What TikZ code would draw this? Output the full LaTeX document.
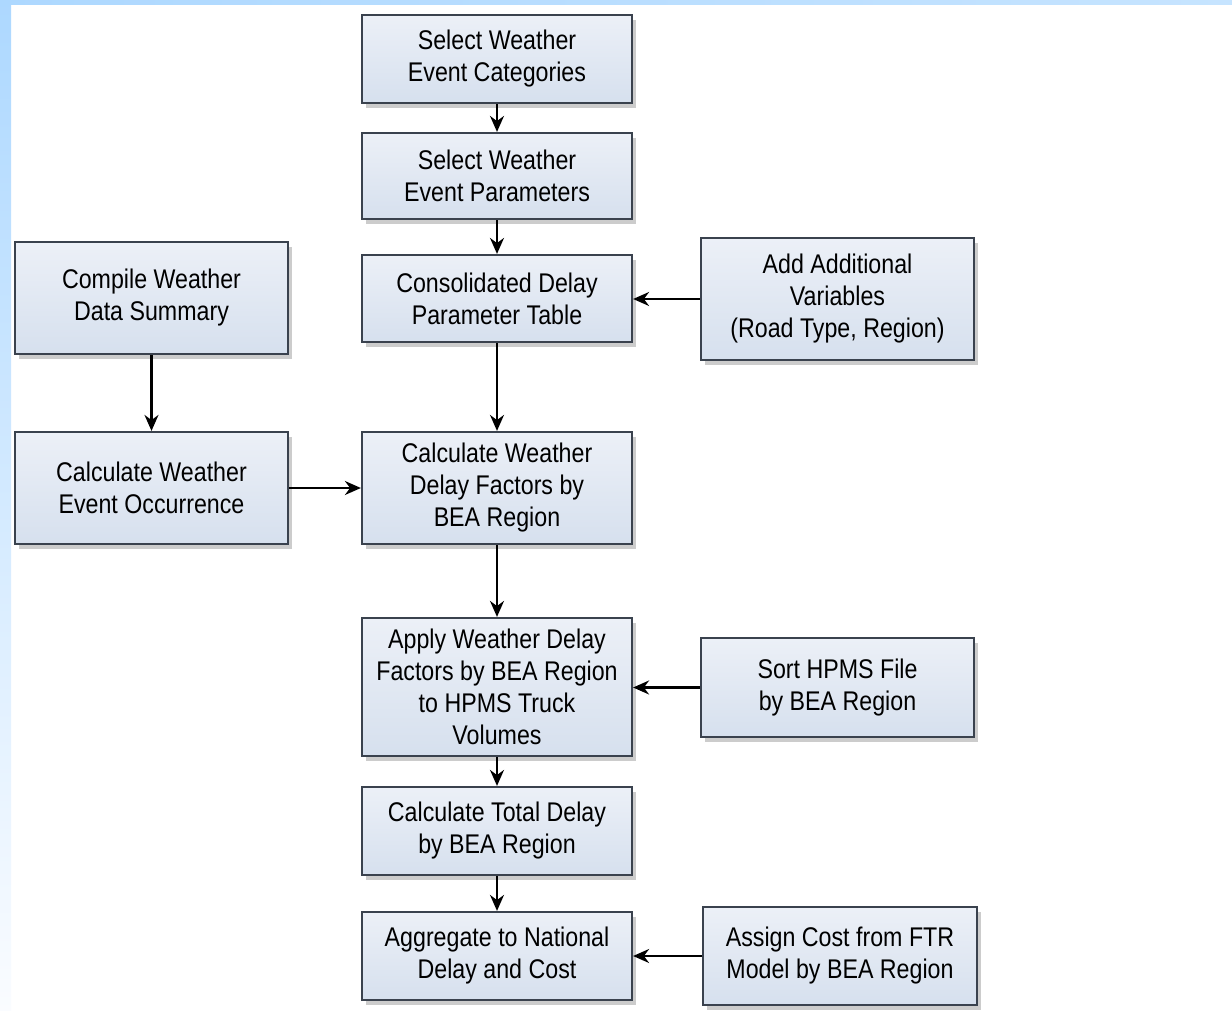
\documentclass[tikz,border=0pt]{standalone}
\usepackage{fontspec}
\setmainfont{Liberation Sans}[FakeStretch=0.86]
\usetikzlibrary{arrows.meta,shadows}
\definecolor{boxtop}{RGB}{236,240,247}
\definecolor{boxbot}{RGB}{214,224,238}
\definecolor{boxline}{RGB}{58,66,78}
\definecolor{barblue}{RGB}{173,216,255}
\definecolor{barblue2}{RGB}{198,228,255}
\definecolor{barwhite}{RGB}{250,252,255}
\tikzset{
  procbox/.style={draw=boxline, line width=1.1pt, top color=boxtop, bottom color=boxbot,
    align=center, inner sep=2pt, font=\fontsize{13.5}{16}\selectfont,
    drop shadow={shadow xshift=2pt, shadow yshift=-2.5pt, opacity=0.4, fill=gray}},
  flow/.style={-{Stealth[length=8pt,width=7pt]}, line width=1.1pt, black}
}
\begin{document}
\begin{tikzpicture}[x=0.5pt,y=-0.5pt]
\useasboundingbox (0,0) rectangle (1232,1011);
\fill[white] (0,0) rectangle (1232,1011);
\shade[top color=barblue, bottom color=barwhite] (0,0) rectangle (11,1011);
\shade[left color=barblue, right color=barblue2] (0,0) rectangle (1232,5);

\node[procbox, minimum width=135pt, minimum height=44pt] (A) at (497,59) {Select Weather\\Event Categories};
\node[procbox, minimum width=135pt, minimum height=43pt] (B) at (497,176) {Select Weather\\Event Parameters};
\node[procbox, minimum width=135pt, minimum height=43.5pt] (C) at (497,298.5) {Consolidated Delay\\Parameter Table};
\node[procbox, minimum width=136.5pt, minimum height=61pt] (D) at (837.5,299) {Add Additional\\Variables\\(Road Type, Region)};
\node[procbox, minimum width=136.5pt, minimum height=56pt] (E) at (151.5,298) {Compile Weather\\Data Summary};
\node[procbox, minimum width=136.5pt, minimum height=56pt] (F) at (151.5,488) {Calculate Weather\\Event Occurrence};
\node[procbox, minimum width=135pt, minimum height=56pt] (G) at (497,488) {Calculate Weather\\Delay Factors by\\BEA Region};
\node[procbox, minimum width=135pt, minimum height=69pt] (H) at (497,687) {Apply Weather Delay\\Factors by BEA Region\\to HPMS Truck\\Volumes};
\node[procbox, minimum width=136.5pt, minimum height=49.5pt] (I) at (837.5,687.5) {Sort HPMS File\\by BEA Region};
\node[procbox, minimum width=135pt, minimum height=44pt] (J) at (497,831) {Calculate Total Delay\\by BEA Region};
\node[procbox, minimum width=135pt, minimum height=44pt] (K) at (497,956) {Aggregate to National\\Delay and Cost};
\node[procbox, minimum width=137pt, minimum height=49pt] (L) at (840,956) {Assign Cost from FTR\\Model by BEA Region};

\draw[flow] (A) -- (B);
\draw[flow] (B) -- (C);
\draw[flow] (C) -- (G);
\draw[flow] (G) -- (H);
\draw[flow] (H) -- (J);
\draw[flow] (J) -- (K);
\draw[flow] (D.west) -- (C.east |- D.west);
\draw[flow] (E) -- (F);
\draw[flow] (F) -- (G);
\draw[flow] (I.west) -- (H.east |- I.west);
\draw[flow] (L.west) -- (K.east |- L.west);
\end{tikzpicture}
\end{document}
